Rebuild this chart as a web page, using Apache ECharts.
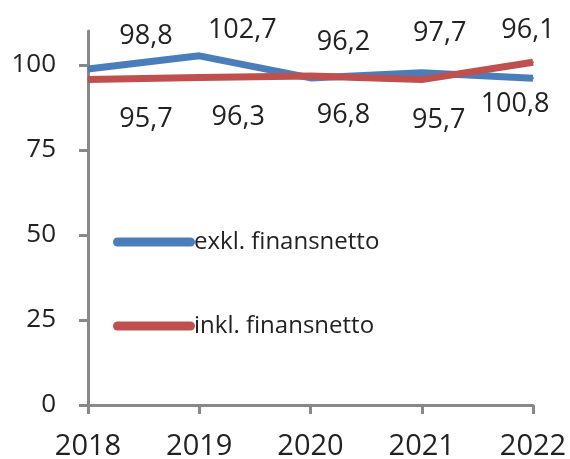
<!DOCTYPE html>
<html><head><meta charset="utf-8">
<script src="https://cdn.jsdelivr.net/npm/echarts@6/dist/echarts.min.js"></script>
<style>html,body{margin:0;padding:0;background:#fff}#c{width:570px;height:459px}</style>
</head><body><div id="c"></div>
<script>
const years = ['2018','2019','2020','2021','2022'];
const exklName = 'exkl. finansnetto';
const inklName = 'inkl. finansnetto';
const exkl = [98.8, 102.7, 96.2, 97.7, 96.1];
const inkl = [95.7, 96.3, 96.8, 95.7, 100.8];
const yTicks = [0, 25, 50, 75, 100];

// label placement (style only)
const exklLabelOffset = [[58,2],[43,9],[33,-1],[18,-5],[-5,-13]];
const inklLabelOffset = [[58,0],[39,0],[33,-1],[17,1],[-18,2]];

const font = 'Open Sans';
const chart = echarts.init(document.getElementById('c'));
const fmt = p => String(p.value).replace('.', ',');
chart.setOption({
  animation: false,
  grid: {left: 88, right: 37, top: 31, bottom: 54, outerBoundsMode: 'none', containLabel: false},
  legend: {
    orient: 'vertical', left: 113, top: 228, padding: 0,
    itemWidth: 82, itemHeight: 9, itemGap: 56,
    icon: 'path://M4.5,0 L77.5,0 A4.5,4.5 0 0 1 77.5,9 L4.5,9 A4.5,4.5 0 0 1 4.5,0 Z',
    textStyle: {fontFamily: font, fontSize: 24, lineHeight: 28, color: '#222', padding: [0,0,0,-6]},
    data: [exklName, inklName]
  },
  xAxis: {
    type: 'category', data: years, boundaryGap: false,
    axisLine: {lineStyle: {color: '#888', width: 3}},
    axisTick: {show: true, alignWithLabel: true, length: 9, lineStyle: {color: '#888', width: 3}},
    axisLabel: {fontFamily: font, fontSize: 29, lineHeight: 30, color: '#222', margin: 27}
  },
  yAxis: {
    type: 'value', min: 0, max: 110, interval: 25,
    splitLine: {show: false},
    axisLine: {show: true, lineStyle: {color: '#888', width: 3}},
    axisTick: {show: true, length: 9, customValues: yTicks, lineStyle: {color: '#888', width: 3}},
    axisLabel: {fontFamily: font, fontSize: 26, color: '#222', margin: 32, customValues: yTicks}
  },
  series: [
    {
      name: exklName, type: 'line', data: exkl.map((v,i)=>({value: v, label: {offset: exklLabelOffset[i]}})),
      symbol: 'circle', symbolSize: 2, showSymbol: true,
      lineStyle: {color: '#4a7ebb', width: 7}, itemStyle: {color: '#4a7ebb'},
      label: {show: true, position: 'top', distance: 20, fontFamily: font, fontSize: 27, lineHeight: 28, color: '#222', formatter: fmt}
    },
    {
      name: inklName, type: 'line', data: inkl.map((v,i)=>({value: v, label: {offset: inklLabelOffset[i]}})),
      symbol: 'circle', symbolSize: 2, showSymbol: true,
      lineStyle: {color: '#c0504d', width: 7}, itemStyle: {color: '#c0504d'},
      label: {show: true, position: 'bottom', distance: 25, fontFamily: font, fontSize: 27, lineHeight: 28, color: '#222', formatter: fmt}
    }
  ]
});
</script></body></html>
